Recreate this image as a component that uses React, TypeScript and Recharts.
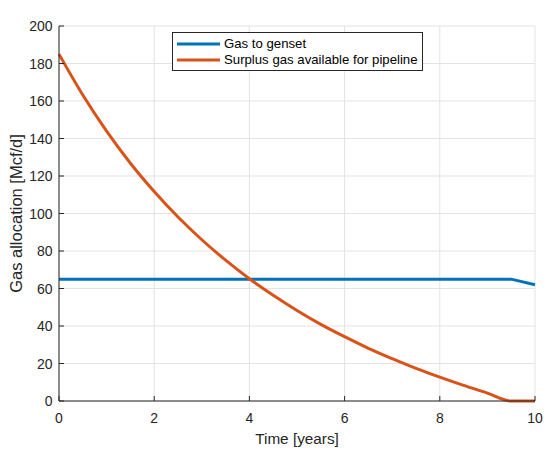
import React from 'react';
import { LineChart, Line, XAxis, YAxis, CartesianGrid, Legend, Label } from 'recharts';

const years = [0, 0.5, 1, 1.5, 2, 2.5, 3, 3.5, 4, 4.5, 5, 5.5, 6, 6.5, 7, 7.5, 8, 8.5, 9, 9.5, 10];
const gasToGenset = [65, 65, 65, 65, 65, 65, 65, 65, 65, 65, 65, 65, 65, 65, 65, 65, 65, 65, 65, 65, 62];
const surplusGas = [185, 163.2, 143.9, 126.8, 111.7, 98.1, 86.0, 75.1, 65.2, 56.4, 48.3, 40.9, 34.3, 28.1, 22.6, 17.4, 12.7, 8.3, 4.2, 0, 0];
const xTicks = [0, 2, 4, 6, 8, 10];
const yTicks = [0, 20, 40, 60, 80, 100, 120, 140, 160, 180, 200];
const seriesNames = ['Gas to genset', 'Surplus gas available for pipeline'];
const titleText = 'Hybrid Gas Allocation Potential';
const xLabelText = 'Time [years]';
const yLabelText = 'Gas allocation [Mcf/d]';

const data = years.map((t, i) => ({ t, genset: gasToGenset[i], surplus: surplusGas[i] }));

const FONT = '"Liberation Sans", Arial, Helvetica, sans-serif';
const AXIS = '#262626';
const BLUE = '#0072BD';
const ORANGE = '#D95319';

const BottomTick = (p: any) => (
  <g>
    <line x1={p.x} y1={p.y} x2={p.x} y2={p.y - 5} stroke={AXIS} strokeWidth={1} />
    <text x={p.x} y={p.y + 22} textAnchor="middle" fill={AXIS} fontSize={14} fontFamily={FONT}>
      {p.payload.value}
    </text>
  </g>
);

const LeftTick = (p: any) => (
  <g>
    <line x1={p.x} y1={p.y} x2={p.x + 5} y2={p.y} stroke={AXIS} strokeWidth={1} />
    <text x={p.x - 6.5} y={p.y + 5} textAnchor="end" fill={AXIS} fontSize={14} fontFamily={FONT}>
      {p.payload.value}
    </text>
  </g>
);

const TopTick = (p: any) => (
  <line x1={p.x} y1={p.y} x2={p.x} y2={p.y + 5} stroke={AXIS} strokeWidth={1} />
);

const RightTick = (p: any) => (
  <line x1={p.x} y1={p.y} x2={p.x - 5} y2={p.y} stroke={AXIS} strokeWidth={1} />
);

const LegendBox = (props: any) => {
  const payload = props.payload || [];
  return (
    <div
      style={{
        boxSizing: 'border-box',
        width: 251,
        height: 39,
        border: `1px solid ${AXIS}`,
        background: '#fff',
        padding: '3px 4px 2px 4px',
        fontFamily: FONT,
        fontSize: 13.2,
        color: '#000',
      }}
    >
      {payload.map((e: any) => (
        <div key={e.value} style={{ display: 'flex', alignItems: 'center', height: 16, whiteSpace: 'nowrap' }}>
          <svg width={43} height={4} style={{ marginRight: 4, display: 'block' }}>
            <line x1={0} y1={2} x2={43} y2={2} stroke={e.color} strokeWidth={3} />
          </svg>
          <span style={{ lineHeight: '16px' }}>{e.value}</span>
        </div>
      ))}
    </div>
  );
};

export default function App() {
  return (
    <div style={{ position: 'absolute', left: 0, top: 0, width: 550, height: 456, background: '#fff' }}>
      <LineChart width={550} height={456} data={data} margin={{ top: 26, right: 15, bottom: 25, left: 0 }}>
        <CartesianGrid stroke="#e3e3e3" strokeWidth={1} />
        <XAxis
          dataKey="t"
          type="number"
          domain={[0, 10]}
          ticks={xTicks}
          interval={0}
          height={30}
          tickSize={0}
          tickMargin={0}
          tickLine={false}
          axisLine={{ stroke: AXIS, strokeWidth: 1 }}
          tick={<BottomTick />}
        >
          <Label
            content={(lp: any) => {
              const vb = lp.viewBox || { x: 59, width: 476 };
              return (
                <text x={vb.x + vb.width / 2} y={444} textAnchor="middle" fill={AXIS} fontSize={15.3} fontFamily={FONT}>
                  {xLabelText}
                </text>
              );
            }}
          />
        </XAxis>
        <XAxis
          xAxisId="top"
          orientation="top"
          dataKey="t"
          type="number"
          domain={[0, 10]}
          ticks={xTicks}
          interval={0}
          height={0}
          tickSize={0}
          tickMargin={0}
          tickLine={false}
          axisLine={{ stroke: AXIS, strokeWidth: 1 }}
          tick={<TopTick />}
        >
          <Label
            content={(lp: any) => {
              const vb = lp.viewBox || { x: 59, width: 476 };
              return (
                <text x={vb.x + vb.width / 2} y={21} textAnchor="middle" fill="#000" fontSize={16} fontWeight="bold" fontFamily={FONT}>
                  {titleText}
                </text>
              );
            }}
          />
        </XAxis>
        <YAxis
          type="number"
          domain={[0, 200]}
          ticks={yTicks}
          interval={0}
          width={59}
          tickSize={0}
          tickMargin={0}
          tickLine={false}
          axisLine={{ stroke: AXIS, strokeWidth: 1 }}
          tick={<LeftTick />}
        >
          <Label
            content={(lp: any) => {
              const vb = lp.viewBox || { y: 26, height: 375 };
              const cy = vb.y + vb.height / 2;
              return (
                <text
                  x={22}
                  y={cy}
                  transform={`rotate(-90, 22, ${cy})`}
                  textAnchor="middle"
                  fill={AXIS}
                  fontSize={16.5}
                  fontFamily={FONT}
                >
                  {yLabelText}
                </text>
              );
            }}
          />
        </YAxis>
        <YAxis
          yAxisId="right"
          orientation="right"
          type="number"
          domain={[0, 200]}
          ticks={yTicks}
          interval={0}
          width={0}
          tickSize={0}
          tickMargin={0}
          tickLine={false}
          axisLine={{ stroke: AXIS, strokeWidth: 1 }}
          tick={<RightTick />}
        />
        <Legend
          layout="horizontal"
          verticalAlign="middle"
          align="center"
          content={<LegendBox />}
          wrapperStyle={{ left: 172, top: 32, width: 251, height: 39 }}
        />
        <Line
          type="linear"
          dataKey="genset"
          name={seriesNames[0]}
          stroke={BLUE}
          strokeWidth={3}
          dot={false}
          activeDot={false}
          isAnimationActive={false}
        />
        <Line
          type="monotone"
          dataKey="surplus"
          name={seriesNames[1]}
          stroke={ORANGE}
          strokeWidth={3}
          dot={false}
          activeDot={false}
          isAnimationActive={false}
        />
      </LineChart>
    </div>
  );
}
